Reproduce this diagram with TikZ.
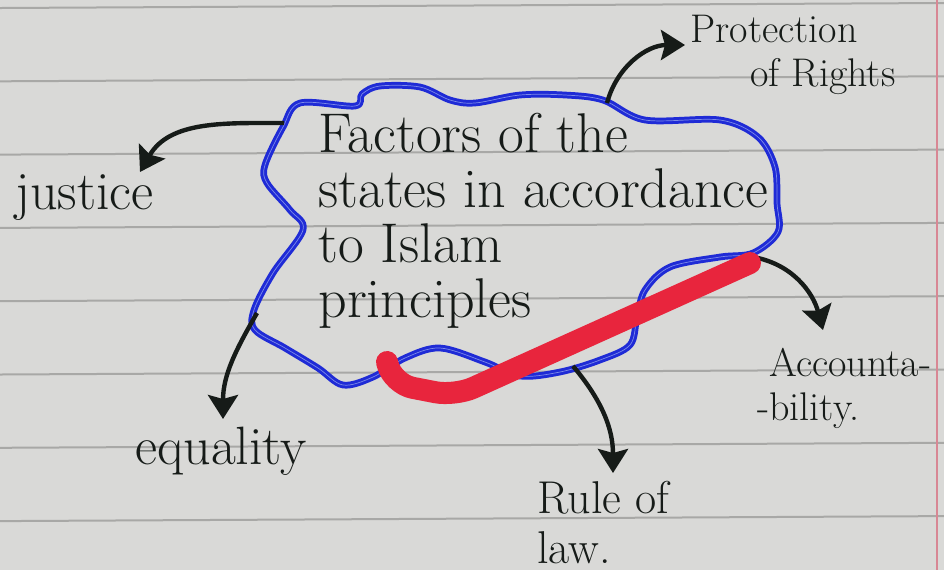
\documentclass[tikz,border=0pt]{standalone}
\usepackage{tikz}
\usetikzlibrary{arrows.meta, calc}
\usepackage{xcolor}
\definecolor{Ink}    {HTML}{161B18}
\definecolor{Pen}    {HTML}{1F2BD6}
\definecolor{PenL}   {HTML}{7C8AE8}
\definecolor{Mark}   {HTML}{E8253D}
\definecolor{Paper}  {HTML}{D9D9D7}
\definecolor{Ruling} {HTML}{A8A8A6}
\definecolor{Margin} {HTML}{D88794}
\tikzset{
  ttl/.style={
    text=Ink, align=left, inner sep=0pt, anchor=north west,
    font=\fontsize{28}{27.5}\selectfont,
  },
  lbl/.style args={#1/#2}{
    text=Ink, align=left, inner sep=0pt, anchor=north west,
    font=\fontsize{#1}{#2}\selectfont,
  },
  cloudline/.style={
    draw=Pen, double=PenL, double distance=0.35pt, line width=1.5pt,
    line join=round,
  },
  arr/.style={
    -{Stealth[length=12pt,width=15pt,inset=2pt]},
    line width=2.2pt, color=Ink,
  },
  redmark/.style={
    draw=Mark, line width=11pt, line cap=round, line join=round,
    rounded corners=10pt,
  },
  ruling/.style={draw=Ruling, line width=1pt},
}
\begin{document}
\begin{tikzpicture}[x=0.5pt,y=-0.5pt]
    \useasboundingbox (0,0) rectangle (944,570);
    \fill[Paper] (0,0) rectangle (944,570);
    \foreach \k in {0,...,7}
      \draw[ruling] (0,{8+73.3*\k}) -- (944,{3+73.3*\k});
    \draw[Margin, line width=1pt] (937,0) -- (937,570);
    % the cloud
    \draw[cloudline] plot[smooth cycle, tension=0.55] coordinates {
      (300,103) (355,106) (362,94) (380,86) (420,87) (450,100) (475,103)
      (520,95) (565,95) (603,100) (645,120) (720,120) (758,137) (775,167)
      (777,203) (778,232) (753,253) (720,257) (670,267) (645,290)
      (637,317) (630,345) (600,360) (560,372) (520,376) (485,362)
      (440,348) (405,358) (373,377) (343,385) (318,368) (285,348)
      (255,330) (254,310) (273,273) (303,230) (290,210) (267,183)
      (265,165) (283,127)};
    \coordinate (cJus) at (284,123);
    \coordinate (cPro) at (607,103);
    \coordinate (cEqu) at (257,313);
    \coordinate (cRul) at (573,366);
    \coordinate (cAcc) at (753,257);
    \node[ttl] (title) at (318,113) {Factors of the\\states in accordance\\to Islam\\principles};
    \node[lbl=27/27] (justice) at (15,174) {justice};
    \node[lbl=20/22] (prot) at (690,15) {Protection\\\hspace*{30pt}of Rights};
    \node[lbl=27/27] (equality) at (135,427) {equality};
    \node[lbl=23/25] (rule) at (537,481) {Rule of\\law.};
    \node[lbl=20/22] (acc) at (757,348) {\hspace*{6pt}Accounta-\\-bility.};
    \draw[arr] (cJus) to[out=180,in=60] ($(justice.north west)+(125,-2)$);
    \draw[arr] (cPro) to[out=75,in=180] ($(prot.north west)+(-5,30)$);
    \draw[arr] (cEqu) to[out=240,in=90] ($(equality.north west)+(88,-8)$);
    \draw[arr] (cRul) to[out=-50,in=90] ($(rule.north west)+(76,-8)$);
    \draw[arr] (cAcc) to[out=-10,in=105] ($(acc.north west)+(66,-18)$);
    \draw[redmark] (387,362) -- (393,384) -- (455,396) -- (750,263);
  \end{tikzpicture}
\end{document}
